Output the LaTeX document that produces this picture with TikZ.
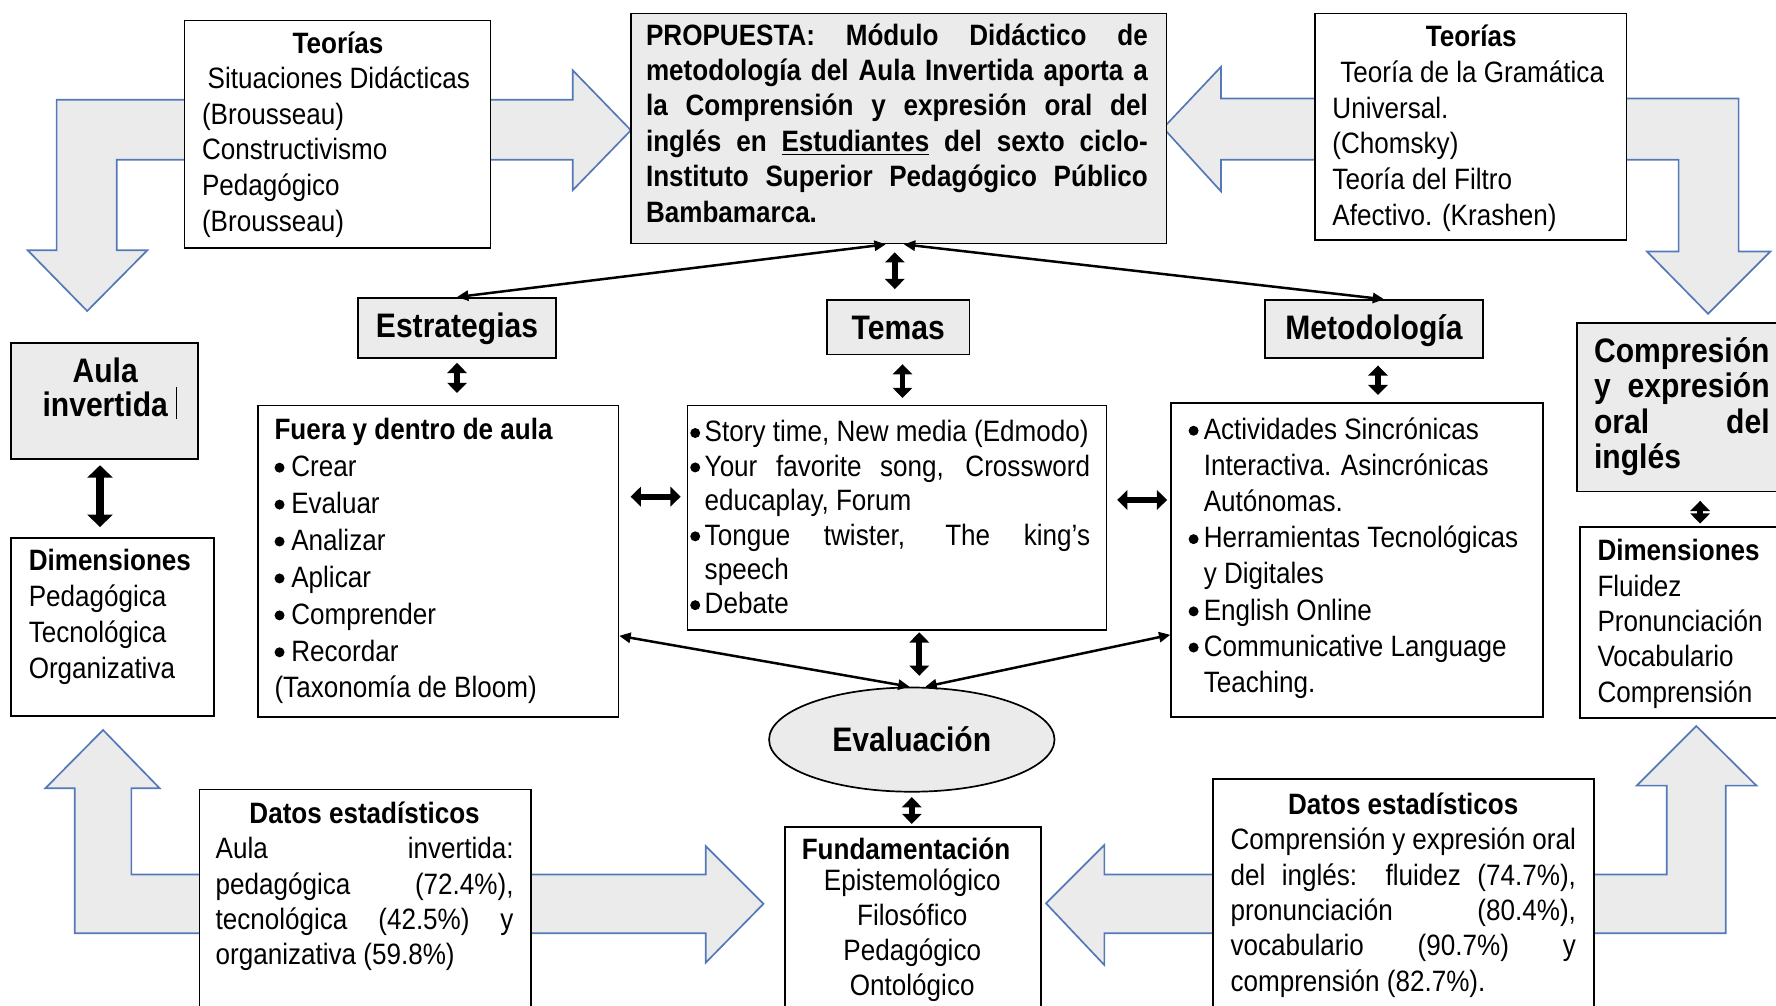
\documentclass[tikz,border=0pt]{standalone}
\usepackage{fontspec}
\setmainfont{Liberation Sans}[FakeStretch=0.885]
\usetikzlibrary{arrows.meta,shapes.geometric,fit}
\definecolor{boxgray}{HTML}{EBEBEB}
\definecolor{arrblue}{HTML}{5479B8}
\newcommand\JLine[1]{\hbox to \hsize{#1}}
\newcommand\LLine[1]{\hbox to \hsize{#1\hfil}}
\newcommand\CLine[1]{\hbox to \hsize{\hfil#1\hfil}}
\newcommand\bul[1]{\tikz[baseline=-3.85pt]\fill (2.2pt,0pt) circle (2.2pt);\hspace{#1}}
\newcommand\bigb{\fontsize{15}{16}\selectfont\bfseries}
\begin{document}
\begin{tikzpicture}[x=0.5pt,y=-0.5pt,
  box/.style={draw, line width=0.75pt, fill=white, inner sep=0pt},
  graybox/.style={box, fill=boxgray},
  txt/.style={anchor=base west, inner sep=0pt},
  ctxt/.style={anchor=center, inner sep=0pt, font=\bigb},
  barrow/.style={draw=arrblue, fill=boxgray, line width=0.75pt, line join=miter},
  conn/.style={line width=1.1pt, {Triangle[length=5pt,width=4.5pt]}-{Triangle[length=5pt,width=4.5pt]}},
  dbl/.style={line width=2.6pt, {Triangle[length=4.5pt,width=8.5pt]}-{Triangle[length=4.5pt,width=8.5pt]}},
  dblbig/.style={line width=3.4pt, {Triangle[length=5.5pt,width=11pt]}-{Triangle[length=5.5pt,width=11pt]}}
]
\useasboundingbox (0,0) rectangle (1568,888);
\clip (0,0) rectangle (1568,888);

% block arrows
\path[barrow] (50,88) -- (505.6,88) -- (505.6,62) -- (557,115) -- (505.6,168) -- (505.6,141) -- (103,141) -- (103,221) -- (130,221) -- (77,274.6) -- (24.5,221) -- (50,221) -- cycle;
\path[barrow] (1027,113) -- (1078,59) -- (1078,87) -- (1535,87) -- (1535,222) -- (1563,222) -- (1508,277) -- (1454,222) -- (1482,222) -- (1482,141) -- (1078,141) -- (1078,169) -- cycle;
\path[barrow] (66,824) -- (66,696) -- (40,696) -- (91,644.5) -- (141,696) -- (116,696) -- (116,772) -- (623,772) -- (623,747) -- (674,798) -- (623,850) -- (623,824) -- cycle;
\path[barrow] (923.5,797.5) -- (975,746) -- (975,772) -- (1471.6,772) -- (1471.6,693.6) -- (1445,693.6) -- (1497.6,641) -- (1550.7,693.6) -- (1523.6,693.6) -- (1523.6,824) -- (975,824) -- (975,852) -- cycle;

% boxes
\node[box, fit={(163,18)(433,219)}] (teoL) {};
\node[graybox, fit={(557,12)(1030,215)}] (prop) {};
\node[box, fit={(1161,12)(1436,212)}] (teoR) {};
\node[graybox, fit={(316,263)(491,316)}] (estr) {};
\node[graybox, fit={(730,265)(856,313)}] (temas) {};
\node[graybox, fit={(1117,265)(1309,316)}] (metod) {};
\node[graybox, fit={(10,303)(175,405)}] (aula) {};
\node[graybox, fit={(1392,285)(1580,434)}] (comp) {};
\node[box, fit={(228,358)(546,633)}] (fuera) {};
\node[box, fit={(607,358)(977,556)}] (tbox) {};
\node[box, fit={(1034,356)(1362,633)}] (mbox) {};
\node[box, fit={(10,475)(189,632)}] (dimL) {};
\node[box, fit={(1395,465)(1580,634)}] (dimR) {};
\node[graybox, ellipse, minimum width=126pt, minimum height=46pt, font=\bigb] (eval) at (805,653) {Evaluación};
\node[box, fit={(176,697)(469,905)}] (datL) {};
\node[box, fit={(693,730)(919,905)}] (fund) {};
\node[box, fit={(1071,688)(1407,905)}] (datR) {};

% titles of the small boxes
\node[ctxt] (testr) at ([yshift=-0.5pt]estr.center) {Estrategias};
\node[ctxt] (ttemas) at ([yshift=-0.5pt]temas.center) {Temas};
\node[ctxt] (tmetod) at ([yshift=-0.5pt]metod.center) {Metodología};

% texts
\node[txt] (tteoL) at (178,47) {\parbox[t]{120pt}{\fontsize{13}{15.7}\selectfont
\CLine{\bfseries Teorías}
\LLine{\hspace{2.5pt}Situaciones Didácticas}
\LLine{(Brousseau)}
\LLine{Constructivismo}
\LLine{Pedagógico}
\LLine{(Brousseau)}}};

\node[txt] (tprop) at (570,40) {\parbox[t]{221.5pt}{\fontsize{13}{15.6}\selectfont\bfseries
\JLine{PROPUESTA: Módulo Didáctico de}
\JLine{metodología del Aula Invertida aporta a}
\JLine{la Comprensión y expresión oral del}
\JLine{inglés en \underline{Estudiantes} del sexto ciclo-}
\JLine{Instituto Superior Pedagógico Público}
\LLine{Bambamarca.}}};

\node[txt] (tteoR) at (1176,41) {\parbox[t]{122.5pt}{\fontsize{13}{15.8}\selectfont
\CLine{\bfseries Teorías}
\LLine{\hspace{3.5pt}Teoría de la Gramática}
\LLine{Universal.}
\LLine{(Chomsky)}
\LLine{Teoría del Filtro}
\LLine{Afectivo. (Krashen)}}};

\node[txt] (taula) at (10,338) {\parbox[t]{82.5pt}{\fontsize{15}{15}\selectfont\bfseries
\CLine{Aula}
\CLine{invertida}}};
\draw[line width=0.5pt] (156,342) -- (156,370);

\node[txt] (tcomp) at (1407,320) {\parbox[t]{77.5pt}{\fontsize{15}{15.65}\selectfont\bfseries
\JLine{Compresión}
\JLine{y expresión}
\JLine{oral del}
\LLine{inglés}}};

\node[txt] (tfuera) at (242,388) {\parbox[t]{144pt}{\fontsize{13}{16.3}\selectfont
\LLine{\bfseries Fuera y dentro de aula}
\LLine{\bul{3pt}Crear}
\LLine{\bul{3pt}Evaluar}
\LLine{\bul{3pt}Analizar}
\LLine{\bul{3pt}Aplicar}
\LLine{\bul{3pt}Comprender}
\LLine{\bul{3pt}Recordar}
\LLine{(Taxonomía de Bloom)}}};

\node[txt] (ttbox) at (609,390) {\parbox[t]{176.5pt}{\fontsize{13}{15.2}\selectfont
\LLine{\bul{2pt}Story time, New media (Edmodo)}
\JLine{\bul{2pt}Your favorite song, Crossword}
\LLine{\hspace{6.4pt}educaplay, Forum}
\JLine{\bul{2pt}Tongue twister, The king’s}
\LLine{\hspace{6.4pt}speech}
\LLine{\bul{2pt}Debate}}};

\node[txt] (tmbox) at (1049,388) {\parbox[t]{150.5pt}{\fontsize{13}{15.95}\selectfont
\LLine{\bul{2.3pt}Actividades Sincrónicas}
\LLine{\hspace{6.7pt}Interactiva. Asincrónicas}
\LLine{\hspace{6.7pt}Autónomas.}
\LLine{\bul{2.3pt}Herramientas Tecnológicas}
\LLine{\hspace{6.7pt}y Digitales}
\LLine{\bul{2.3pt}English Online}
\LLine{\bul{2.3pt}Communicative Language}
\LLine{\hspace{6.7pt}Teaching.}}};

\node[txt] (tdimL) at (25,504) {\parbox[t]{80pt}{\fontsize{13}{15.85}\selectfont
\LLine{\bfseries Dimensiones}
\LLine{Pedagógica}
\LLine{Tecnológica}
\LLine{Organizativa}}};

\node[txt] (tdimR) at (1410,495) {\parbox[t]{80pt}{\fontsize{13}{15.6}\selectfont
\LLine{\bfseries Dimensiones}
\LLine{Fluidez}
\LLine{Pronunciación}
\LLine{Vocabulario}
\LLine{Comprensión}}};

\node[txt] (tdatL) at (190,727) {\parbox[t]{131.5pt}{\fontsize{13}{15.6}\selectfont
\CLine{\bfseries Datos estadísticos}
\JLine{Aula invertida:}
\JLine{pedagógica (72.4\%),}
\JLine{tecnológica (42.5\%) y}
\LLine{organizativa (59.8\%)}}};

\node[txt] (tfund) at (705,759) {\parbox[t]{100pt}{\fontsize{13}{15.5}\selectfont
\CLine{\bfseries Fundamentación\hspace{5.5pt}}
\vspace{-2pt}
\CLine{Epistemológico}
\CLine{Filosófico}
\CLine{Pedagógico}
\CLine{Ontológico}}};

\node[txt] (tdatR) at (1086,719) {\parbox[t]{152.5pt}{\fontsize{13}{15.6}\selectfont
\CLine{\bfseries Datos estadísticos}
\JLine{Comprensión y expresión oral}
\JLine{del inglés: fluidez (74.7\%),}
\JLine{pronunciación (80.4\%),}
\JLine{vocabulario (90.7\%) y}
\LLine{comprensión (82.7\%).}}};

% thin connectors
\draw[conn] ([xshift=-5.75pt]prop.south) -- (estr.north);
\draw[conn] ([xshift=2.25pt]prop.south) -- ([xshift=4.5pt]metod.north);
\draw[conn] ([yshift=36.2pt]fuera.south east) -- ([xshift=-1pt]eval.north);
\draw[conn] ([xshift=6pt]eval.north) -- ([yshift=36.65pt]mbox.south west);

% thick double arrows
\draw[dblbig, shorten <=2.5pt, shorten >=4.45pt] ([xshift=-2.1pt]aula.south) -- ([xshift=-2.1pt]aula.south |- dimL.north);
\draw[dbl, shorten <=1.8pt, shorten >=5.15pt] (estr.south) -- (estr.south |- fuera.north);
\draw[dbl, shorten <=3.5pt, shorten >=4.5pt] ([xshift=-1.75pt]prop.south) -- ([xshift=-1.75pt]prop.south |- temas.north);
\draw[dbl, shorten <=3.9pt, shorten >=2.95pt] ([xshift=1.9pt]temas.south) -- ([xshift=1.9pt]temas.south |- tbox.north);
\draw[dbl, shorten <=2.95pt, shorten >=3.25pt] ([xshift=1.8pt]metod.south) -- ([xshift=1.8pt]metod.south |- mbox.north);
\draw[dbl, shorten <=5pt, shorten >=2.65pt] ([yshift=28.5pt]fuera.east) -- ([yshift=28.5pt]fuera.east -| tbox.west);
\draw[dbl, shorten <=4.3pt, shorten >=1.4pt] ([yshift=7.8pt]tbox.east) -- ([yshift=7.8pt]tbox.east -| mbox.west);
\draw[dbl, shorten <=0.75pt, shorten >=4.8pt] ([xshift=9.8pt]tbox.south) -- ([xshift=9.8pt]tbox.south |- eval.north);
\draw[dbl, shorten <=3.7pt, shorten >=1pt] ([xshift=7.5pt]comp.south) -- ([xshift=7.5pt]comp.south |- dimR.north);
\draw[dbl, shorten <=2pt, shorten >=0.9pt] (eval.south) -- (eval.south |- fund.north);
\end{tikzpicture}
\end{document}
